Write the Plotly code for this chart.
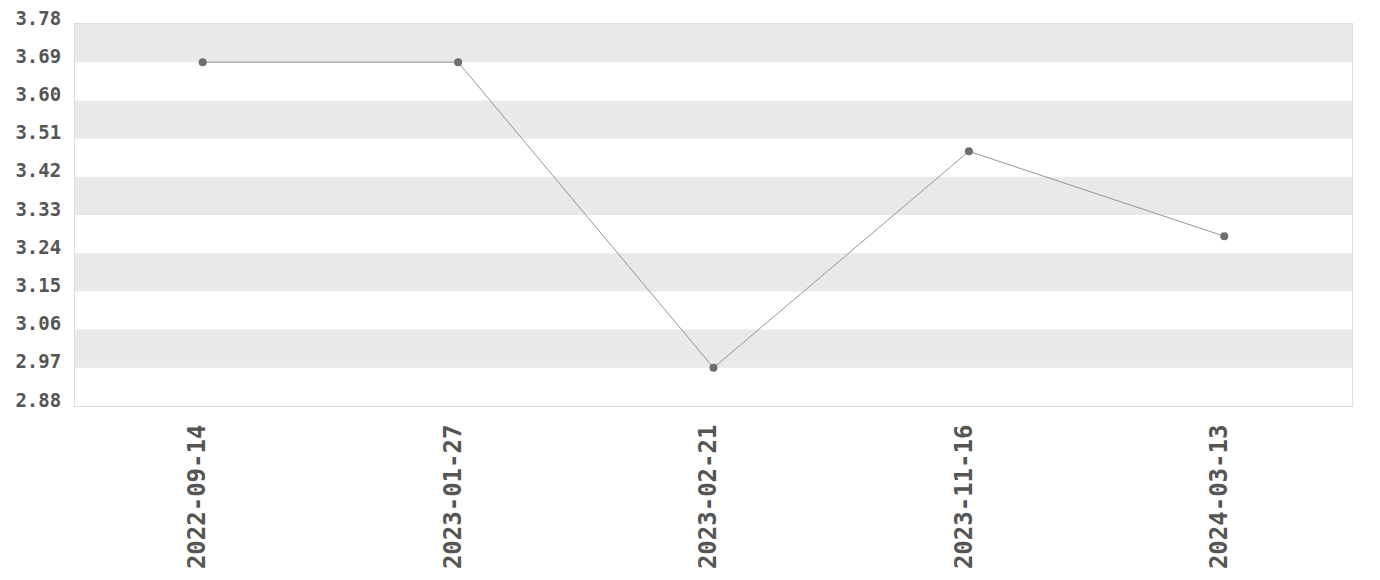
import plotly.graph_objects as go

dates = ["2022-09-14", "2023-01-27", "2023-02-21", "2023-11-16", "2024-03-13"]
values = [3.69, 3.69, 2.97, 3.48, 3.28]
y_ticks = [2.88, 2.97, 3.06, 3.15, 3.24, 3.33, 3.42, 3.51, 3.60, 3.69, 3.78]
y_labels = ["2.88", "2.97", "3.06", "3.15", "3.24", "3.33", "3.42", "3.51", "3.60", "3.69", "3.78"]

fig = go.Figure()
fig.add_trace(go.Scatter(
    x=dates, y=values, mode="lines+markers",
    line=dict(color="#8a8a8a", width=0.9),
    marker=dict(color="#6e6e6e", size=8),
    showlegend=False,
))

shapes = []
for i in range(1, len(y_ticks) - 1, 2):
    shapes.append(dict(type="rect", xref="paper", yref="y", x0=0, x1=1,
                       y0=y_ticks[i], y1=y_ticks[i + 1],
                       fillcolor="#e9e9e9", line=dict(width=0), layer="below"))

font = "DejaVu Sans Mono"
fig.update_layout(
    width=1380, height=580,
    margin=dict(l=67, r=36, t=16, b=182),
    paper_bgcolor="white", plot_bgcolor="white",
    shapes=shapes,
    xaxis=dict(type="category", range=[-0.5, 4.5], tickangle=-90, automargin=False,
               showgrid=False, zeroline=False,
               showline=True, mirror=True, linecolor="#dddddd", linewidth=1,
               tickfont=dict(family=font, size=24, color="#555555", weight="bold"),
               ticks="", ticklabelstandoff=8, ticklabelshift=-5),
    yaxis=dict(range=[2.88, 3.78], tickvals=y_ticks, ticktext=y_labels, automargin=False,
               showgrid=False, zeroline=False,
               showline=True, mirror=True, linecolor="#dddddd", linewidth=1,
               tickfont=dict(family=font, size=19, color="#555555", weight="bold"),
               ticks="", ticklabelstandoff=9, ticklabelshift=-6,
               ticklabeloverflow="allow"),
)
fig.write_html("out.html")
